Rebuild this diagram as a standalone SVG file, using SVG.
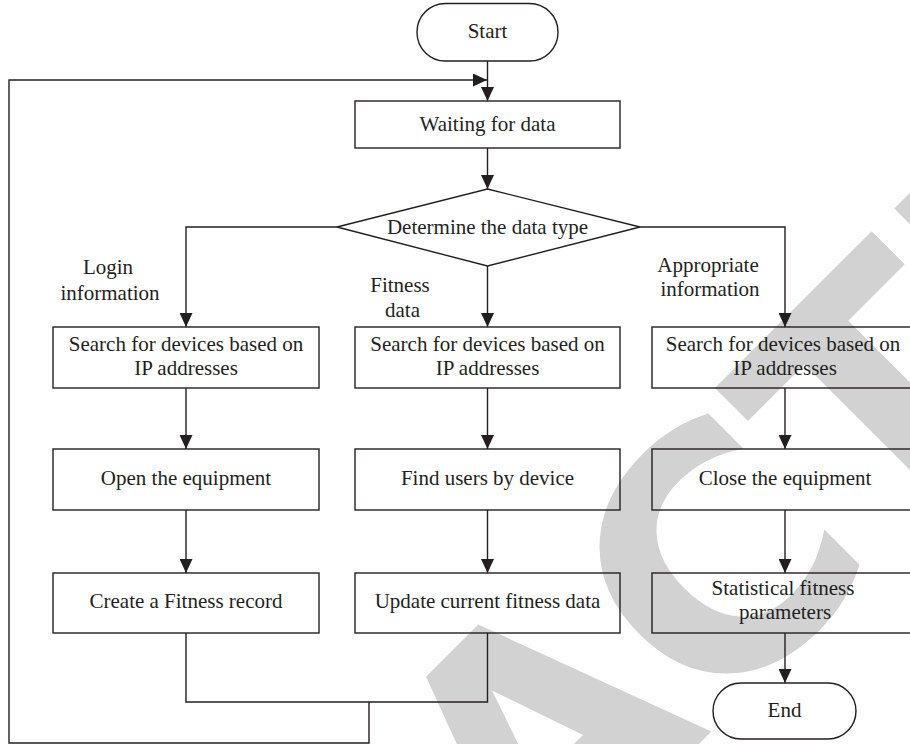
<svg xmlns="http://www.w3.org/2000/svg" width="910" height="744" viewBox="0 0 910 744">
  <defs>
    <marker id="arrow" viewBox="0 0 14 13" refX="14" refY="6.5" markerWidth="14" markerHeight="13" markerUnits="userSpaceOnUse" orient="auto">
      <path d="M0,0 L14,6.5 L0,13 Z" fill="#231f20"/>
    </marker>
    <style>
      .shape { fill: none; stroke: #231f20; stroke-width: 1.4; }
      .wire { fill: none; stroke: #231f20; stroke-width: 1.4; }
      .lbl { font-family: "Liberation Serif", "Times New Roman", serif; font-size: 21px; fill: #231f20; text-anchor: middle; }
      .mark { font-family: "DejaVu Sans", sans-serif; font-weight: bold; font-size: 330px; fill: #d2d2d2; }
    </style>
  </defs>

  <rect width="910" height="744" fill="#ffffff"/>

  <!-- background stamp -->
  <g id="stamp" transform="translate(798,645) rotate(-45)">
    <text class="mark" x="-1335" y="0">RETRACTED</text>
  </g>

  <!-- connectors -->
  <g id="connectors">
    <line class="wire" x1="487.5" y1="61" x2="487.5" y2="101" marker-end="url(#arrow)"/>
    <polyline class="wire" points="369,702 369,743 9,743 9,80 487,80" marker-end="url(#arrow)"/>
    <line class="wire" x1="487.5" y1="148" x2="487.5" y2="189" marker-end="url(#arrow)"/>
    <polyline class="wire" points="337,227 186,227 186,327" marker-end="url(#arrow)"/>
    <polyline class="wire" points="640,227 785,227 785,327" marker-end="url(#arrow)"/>
    <line class="wire" x1="487.5" y1="266" x2="487.5" y2="327" marker-end="url(#arrow)"/>
    <line class="wire" x1="186" y1="388" x2="186" y2="449" marker-end="url(#arrow)"/>
    <line class="wire" x1="487.5" y1="388" x2="487.5" y2="449" marker-end="url(#arrow)"/>
    <line class="wire" x1="785" y1="388" x2="785" y2="449" marker-end="url(#arrow)"/>
    <line class="wire" x1="186" y1="510" x2="186" y2="573" marker-end="url(#arrow)"/>
    <line class="wire" x1="487.5" y1="510" x2="487.5" y2="573" marker-end="url(#arrow)"/>
    <line class="wire" x1="785" y1="510" x2="785" y2="573" marker-end="url(#arrow)"/>
    <line class="wire" x1="785" y1="633" x2="785" y2="683" marker-end="url(#arrow)"/>
    <polyline class="wire" points="186,633 186,702 487.5,702 487.5,633"/>
    <text class="lbl" x="108" y="274">Login</text>
    <text class="lbl" x="110" y="300">information</text>
    <text class="lbl" x="400" y="291.5">Fitness</text>
    <text class="lbl" x="402.5" y="316.5">data</text>
    <text class="lbl" x="708" y="271.5">Appropriate</text>
    <text class="lbl" x="710" y="295.5">information</text>
  </g>

  <g id="start">
    <rect class="shape" x="417" y="3.5" width="141" height="57.5" rx="28.5"/>
    <text class="lbl" x="487.5" y="38">Start</text>
  </g>

  <g id="wait">
    <rect class="shape" x="355" y="101" width="265" height="47"/>
    <text class="lbl" x="487.5" y="130.5">Waiting for data</text>
  </g>

  <g id="decide">
    <polygon class="shape" points="487.5,189 640,227 487.5,266 337,227"/>
    <text class="lbl" x="487.5" y="233.5">Determine the data type</text>
  </g>

  <g id="search-login">
    <rect class="shape" x="53" y="327" width="266" height="61"/>
    <text class="lbl" x="186" y="351">Search for devices based on</text>
    <text class="lbl" x="186" y="374.5">IP addresses</text>
  </g>

  <g id="search-fitness">
    <rect class="shape" x="355" y="327" width="265" height="61"/>
    <text class="lbl" x="487.5" y="351">Search for devices based on</text>
    <text class="lbl" x="487.5" y="374.5">IP addresses</text>
  </g>

  <g id="search-info">
    <rect class="shape" x="652" y="327" width="266" height="61"/>
    <text class="lbl" x="783" y="351">Search for devices based on</text>
    <text class="lbl" x="785" y="374.5">IP addresses</text>
  </g>

  <g id="open">
    <rect class="shape" x="53" y="449" width="266" height="61"/>
    <text class="lbl" x="186" y="485">Open the equipment</text>
  </g>

  <g id="find-users">
    <rect class="shape" x="355" y="449" width="265" height="61"/>
    <text class="lbl" x="487.5" y="485">Find users by device</text>
  </g>

  <g id="close">
    <rect class="shape" x="652" y="449" width="266" height="61"/>
    <text class="lbl" x="785" y="485">Close the equipment</text>
  </g>

  <g id="create-record">
    <rect class="shape" x="53" y="573" width="266" height="60"/>
    <text class="lbl" x="186" y="607.5">Create a Fitness record</text>
  </g>

  <g id="update">
    <rect class="shape" x="355" y="573" width="265" height="60"/>
    <text class="lbl" x="487.5" y="607.5">Update current fitness data</text>
  </g>

  <g id="stats">
    <rect class="shape" x="652" y="573" width="266" height="60"/>
    <text class="lbl" x="783" y="594.5">Statistical fitness</text>
    <text class="lbl" x="785" y="618.5">parameters</text>
  </g>

  <g id="end">
    <rect class="shape" x="713" y="683" width="143" height="56" rx="28"/>
    <text class="lbl" x="784.5" y="717">End</text>
  </g>
</svg>
